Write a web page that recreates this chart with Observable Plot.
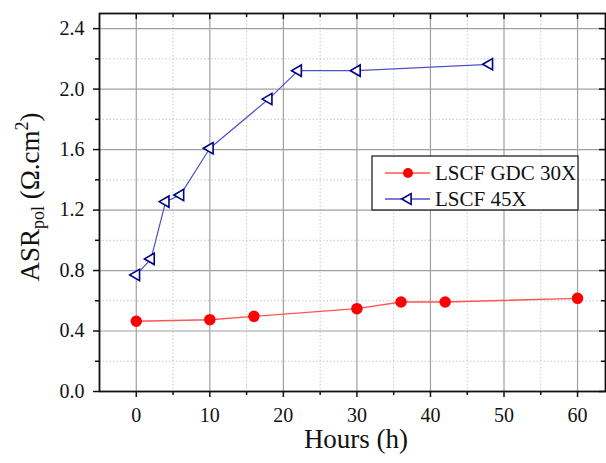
<!DOCTYPE html>
<html>
<head>
<meta charset="utf-8">
<script src="https://cdn.jsdelivr.net/npm/d3@7"></script>
<script src="https://cdn.jsdelivr.net/npm/@observablehq/plot@0.6"></script>
<style>
  html, body { margin: 0; padding: 0; background: #fff; }
  #chart svg { display: block; }
</style>
</head>
<body>
<div id="chart"></div>
<script>
// Data
const hours30 = [0, 10, 16, 30, 36, 42, 60];
const asr30   = [0.465, 0.475, 0.497, 0.548, 0.592, 0.592, 0.616];
const hours45 = [0, 2, 4, 6, 10, 18, 22, 30, 48];
const asr45   = [0.771, 0.877, 1.256, 1.300, 1.609, 1.934, 2.122, 2.122, 2.164];
const seriesNames = ["LSCF GDC 30X", "LSCF 45X"];

const majorX = [0, 10, 20, 30, 40, 50, 60];
const minorX = [5, 15, 25, 35, 45, 55];
const majorY = [0.0, 0.4, 0.8, 1.2, 1.6, 2.0, 2.4];
const minorY = [0.2, 0.6, 1.0, 1.4, 1.8, 2.2];

const data30 = hours30.map((h, i) => ({h, v: asr30[i]}));
const data45 = hours45.map((h, i) => ({h, v: asr45[i]}));

const W = 606, H = 463;
const mL = 99, mT = 13, mB = 72, mR = 1;
const innerH = H - mT - mB;
const innerW = W - mL - mR;
const font = "Liberation Serif";

const red = "#ff0000", redLine = "#ff5555";
const navy = "#000088", blueLine = "#5050c8";

const plot = Plot.plot({
  width: W, height: H,
  marginLeft: mL, marginTop: mT, marginBottom: mB, marginRight: mR,
  style: {background: "#fff", color: "#111"},
  x: {domain: [-5, 63.8], label: null},
  y: {domain: [0, 2.5], label: null},
  marks: [
    Plot.gridX(minorX, {stroke: "#c8c8c8", strokeOpacity: 1, strokeDasharray: "1.5,2"}),
    Plot.gridY(minorY, {stroke: "#c8c8c8", strokeOpacity: 1, strokeDasharray: "1.5,2"}),
    Plot.gridX(majorX, {stroke: "#a0a0a0", strokeOpacity: 1, strokeWidth: 1.2}),
    Plot.gridY(majorY, {stroke: "#a0a0a0", strokeOpacity: 1, strokeWidth: 1.2}),
    // outward ticks + labels
    Plot.axisX(majorX, {tickSize: 6, tickPadding: 10, fontSize: 20, label: null, tickFormat: d => String(d), stroke: "#111", strokeWidth: 1.5}),
    Plot.axisX(minorX, {tickSize: 4, tickFormat: () => "", label: null, stroke: "#111", strokeWidth: 1.5}),
    Plot.axisY(majorY, {tickSize: 6, tickPadding: 9, fontSize: 20, label: null, tickFormat: d => d.toFixed(1), stroke: "#111", strokeWidth: 1.5}),
    Plot.axisY(minorY, {tickSize: 4, tickFormat: () => "", label: null, stroke: "#111", strokeWidth: 1.5}),
    // inward ticks on top and right
    Plot.tickX(majorX, {x: d => d, insetBottom: innerH - 6, stroke: "#111", strokeWidth: 1.5}),
    Plot.tickX(minorX, {x: d => d, insetBottom: innerH - 4, stroke: "#111", strokeWidth: 1.5}),
    Plot.tickY(majorY, {y: d => d, insetLeft: innerW - 6, stroke: "#111", strokeWidth: 1.5}),
    Plot.tickY(minorY, {y: d => d, insetLeft: innerW - 4, stroke: "#111", strokeWidth: 1.5}),
    Plot.frame({stroke: "#111", strokeWidth: 1.8}),
    // series
    Plot.line(data45, {x: "h", y: "v", stroke: blueLine, strokeWidth: 1.2}),
    Plot.dot(data45, {x: "h", y: "v", symbol: "triangle", rotate: -90, r: 4.2, stroke: navy, strokeWidth: 1.6, fill: "#fff"}),
    Plot.line(data30, {x: "h", y: "v", stroke: redLine, strokeWidth: 1.4}),
    Plot.dot(data30, {x: "h", y: "v", r: 5, fill: red, stroke: red})
  ]
});

document.getElementById("chart").appendChild(plot);

const svg = d3.select(plot);

// X axis title
svg.append("text")
  .attr("x", 356).attr("y", 448)
  .attr("text-anchor", "middle")
  .attr("font-size", 27).attr("fill", "#111")
  .text("Hours (h)");

// Y axis title with subscript / superscript
const yl = svg.append("text")
  .attr("transform", "translate(39,197) rotate(-90)")
  .attr("text-anchor", "middle")
  .attr("font-size", 27).attr("fill", "#111");
yl.append("tspan").text("ASR");
yl.append("tspan").attr("dy", 5).attr("font-size", 18).text("pol");
yl.append("tspan").attr("dy", -5).text(" (Ω.cm");
yl.append("tspan").attr("dy", -11).attr("font-size", 18).text("2");
yl.append("tspan").attr("dy", 11).text(")");

// Legend
const lg = svg.append("g");
lg.append("rect").attr("x", 372).attr("y", 156).attr("width", 206).attr("height", 54)
  .attr("fill", "#fff").attr("stroke", "#222").attr("stroke-width", 1.3);
const rows = [
  {name: seriesNames[0], y: 173, line: redLine},
  {name: seriesNames[1], y: 199, line: blueLine}
];
rows.forEach((r) => {
  lg.append("line").attr("x1", 385).attr("x2", 430).attr("y1", r.y).attr("y2", r.y)
    .attr("stroke", r.line).attr("stroke-width", 1.3);
  lg.append("text").attr("x", 435).attr("y", r.y + 7)
    .attr("text-anchor", "start")
    .attr("font-size", 21).attr("fill", "#111")
    .text(r.name);
});
lg.append("circle").attr("cx", 408).attr("cy", 173).attr("r", 5).attr("fill", red);
lg.append("path").attr("d", d3.symbol(d3.symbolTriangle, 50)())
  .attr("transform", "translate(408,199) rotate(-90)")
  .attr("fill", "#fff").attr("stroke", navy).attr("stroke-width", 1.6);

// Serif font for every text element
svg.attr("font-family", font).style("font-family", font);
svg.selectAll("text, tspan").attr("font-family", font).style("font-family", font);
</script>
</body>
</html>
